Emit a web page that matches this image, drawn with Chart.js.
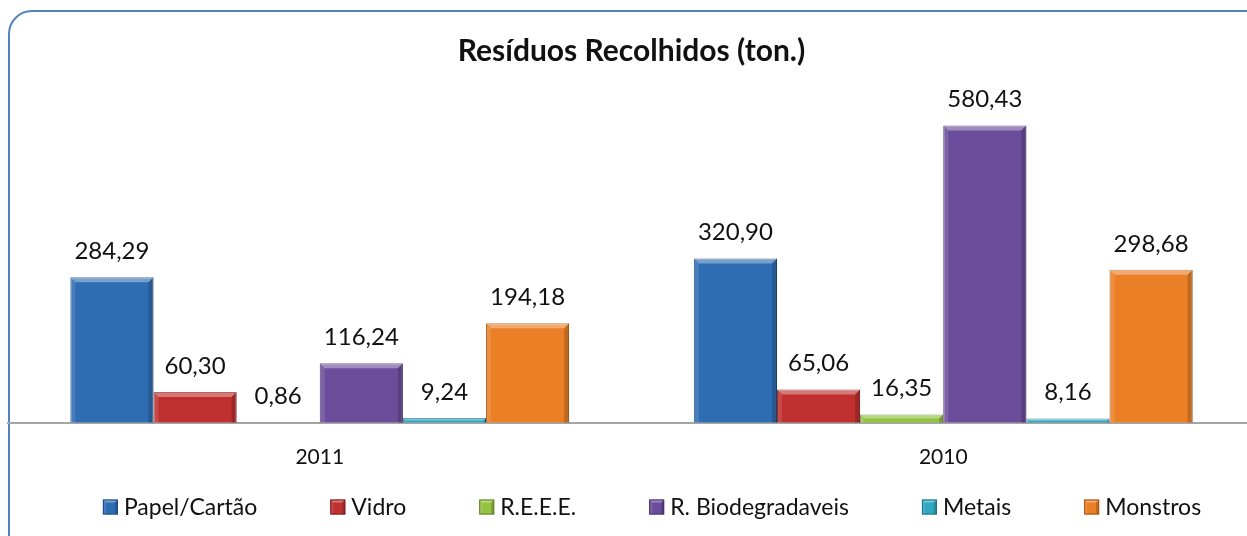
<!DOCTYPE html>
<html>
<head>
<meta charset="utf-8">
<script src="https://cdn.jsdelivr.net/npm/chart.js@4.4.0/dist/chart.umd.min.js"></script>
<style>
  html, body { margin: 0; padding: 0; background: #fff; overflow: hidden; }
  body { width: 1247px; height: 536px; position: relative; }
  #frame {
    position: absolute; left: 8px; top: 10px; width: 1300px; height: 600px;
    border: 2px solid #5183c0; border-radius: 24px; box-sizing: border-box;
  }
  #wrap { position: absolute; left: 0; top: 0; width: 1262px; height: 536px; }
</style>
</head>
<body>
<div id="frame"></div>
<div id="wrap"><canvas id="residuos"></canvas></div>
<script>
const years = ["2011", "2010"];
const papel = [284.29, 320.90];
const vidro = [60.30, 65.06];
const reee = [0.86, 16.35];
const biodegradaveis = [116.24, 580.43];
const metais = [9.24, 8.16];
const monstros = [194.18, 298.68];

const seriesNames = ["Papel/Cartão", "Vidro", "R.E.E.E.", "R. Biodegradaveis", "Metais", "Monstros"];
const seriesColors = ['#2f6db3', '#c0302f', '#96c241', '#6c4d9c', '#30a8c3', '#ea7f25'];
const seriesEdges = ['#1d4a80', '#7f1c1c', '#617f26', '#45306a', '#1c7185', '#a65413'];

const FONT = 'Lato, "Open Sans", sans-serif';
const fmt = v => v.toFixed(2).replace('.', ',');

function bevel(ctx, l, t, r, b, size) {
  ctx.fillStyle = 'rgba(255,255,255,0.35)';
  ctx.beginPath();
  ctx.moveTo(l, t); ctx.lineTo(r, t); ctx.lineTo(r - size, t + size); ctx.lineTo(l + size, t + size);
  ctx.closePath(); ctx.fill();
  ctx.fillStyle = 'rgba(0,0,0,0.18)';
  ctx.beginPath();
  ctx.moveTo(r, t); ctx.lineTo(r, b); ctx.lineTo(r - size, b); ctx.lineTo(r - size, t + size);
  ctx.closePath(); ctx.fill();
  ctx.fillStyle = 'rgba(255,255,255,0.12)';
  ctx.beginPath();
  ctx.moveTo(l, t); ctx.lineTo(l + size, t + size); ctx.lineTo(l + size, b); ctx.lineTo(l, b);
  ctx.closePath(); ctx.fill();
}

// bevel look + value labels over bars
const barDecor = {
  id: 'barDecor',
  afterDatasetsDraw(chart) {
    const ctx = chart.ctx;
    ctx.save();
    chart.data.datasets.forEach((ds, i) => {
      const meta = chart.getDatasetMeta(i);
      meta.data.forEach((bar, j) => {
        const l = bar.x - bar.width / 2, r = bar.x + bar.width / 2;
        const h = bar.base - bar.y;
        if (h > 1) bevel(ctx, l, bar.y, r, bar.base, Math.min(5, h / 2));
        ctx.fillStyle = '#111';
        ctx.font = '24px ' + FONT;
        ctx.textAlign = 'center';
        ctx.textBaseline = 'middle';
        ctx.fillText(fmt(ds.data[j]), bar.x, bar.y - 26);
      });
    });
    ctx.restore();
  }
};

// legend drawn by hand so the items can be spread like the original
const wideLegend = {
  id: 'wideLegend',
  afterDraw(chart) {
    const ctx = chart.ctx;
    const box = 15, gapText = 6, gapItem = 73, y = 507;
    ctx.save();
    ctx.font = '23px ' + FONT;
    const widths = chart.data.datasets.map(ds => box + gapText + ctx.measureText(ds.label).width);
    const total = widths.reduce((a, b) => a + b, 0) + gapItem * (widths.length - 1);
    let x = 652 - total / 2;
    chart.data.datasets.forEach((ds, i) => {
      ctx.fillStyle = ds.backgroundColor;
      ctx.fillRect(x, y - box / 2, box, box);
      bevel(ctx, x, y - box / 2, x + box, y + box / 2, 3);
      ctx.strokeStyle = ds.borderColor;
      ctx.lineWidth = 1;
      ctx.strokeRect(x + 0.5, y - box / 2 + 0.5, box - 1, box - 1);
      ctx.fillStyle = '#111';
      ctx.textAlign = 'left';
      ctx.textBaseline = 'middle';
      ctx.fillText(ds.label, x + box + gapText, y + 1);
      x += widths[i] + gapItem;
    });
    ctx.restore();
  }
};

const values = [papel, vidro, reee, biodegradaveis, metais, monstros];

new Chart(document.getElementById('residuos'), {
  type: 'bar',
  data: {
    labels: years,
    datasets: values.map((v, i) => ({
      label: seriesNames[i],
      data: v,
      backgroundColor: seriesColors[i],
      borderColor: seriesEdges[i],
      borderWidth: 1,
      barPercentage: 1,
      categoryPercentage: 0.8
    }))
  },
  options: {
    responsive: true,
    maintainAspectRatio: false,
    animation: false,
    layout: { padding: { left: 8, right: 7, top: 0, bottom: 44 } },
    scales: {
      x: {
        grid: { display: false, drawTicks: false },
        border: { display: true, color: '#a6a6a6', width: 2 },
        ticks: { color: '#111', font: { size: 21, family: FONT }, padding: 22 }
      },
      y: {
        display: false,
        min: 0,
        max: 640
      }
    },
    plugins: {
      title: {
        display: true,
        text: 'Resíduos Recolhidos (ton.)',
        color: '#111',
        font: { size: 30, weight: 'bold', family: FONT },
        padding: { top: 33, bottom: 26 }
      },
      legend: { display: false },
      tooltip: { enabled: false }
    }
  },
  plugins: [barDecor, wideLegend]
});
</script>
</body>
</html>
